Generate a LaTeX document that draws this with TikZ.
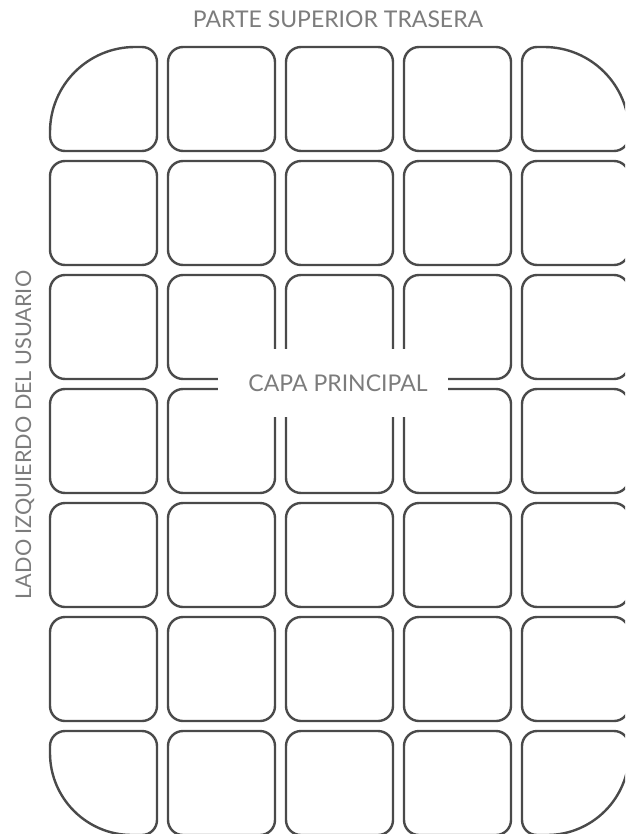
\documentclass[tikz,border=0pt]{standalone}
\usepackage{fontspec}
\setmainfont{Lato}
\definecolor{cellline}{HTML}{4A4A4A}
\definecolor{labeltext}{HTML}{7C7C7C}
\newcommand\cellbox[6]{%
  \pgfmathsetmacro\xa{#1}\pgfmathsetmacro\ya{#2}%
  \pgfmathsetmacro\xb{#1+107}\pgfmathsetmacro\yb{#2+104}%
  \draw[cellstroke]
    ({\xa+#3},\ya) -- ({\xb-#4},\ya)
    .. controls ({\xb-0.4477*#4},\ya) and (\xb,{\ya+0.4477*#4}) .. (\xb,{\ya+#4})
    -- (\xb,{\yb-#5})
    .. controls (\xb,{\yb-0.4477*#5}) and ({\xb-0.4477*#5},\yb) .. ({\xb-#5},\yb)
    -- ({\xa+#6},\yb)
    .. controls ({\xa+0.4477*#6},\yb) and (\xa,{\yb-0.4477*#6}) .. (\xa,{\yb-#6})
    -- (\xa,{\ya+#3})
    .. controls (\xa,{\ya+0.4477*#3}) and ({\xa+0.4477*#3},\ya) .. cycle;}
\begin{document}
\begin{tikzpicture}[x=1pt,y=-1pt,
  cellstroke/.style={draw=cellline,line width=2.4pt,line join=round},
  caption/.style={text=labeltext,font=\fontsize{23}{26}\selectfont,inner sep=0pt}]
\useasboundingbox (0,0) rectangle (625,834);
\fill[white] (0,0) rectangle (625,834);
\begin{scope}
\clip (0,0) rectangle (625,834);
\foreach \c in {0,...,4}{
  \foreach \r in {0,...,6}{
    \pgfmathsetmacro\cx{50+118*\c}
    \pgfmathsetmacro\cy{47+114*\r}
    \pgfmathsetmacro\rtl{(\c==0 && \r==0) ? 85 : 15}
    \pgfmathsetmacro\rtr{(\c==4 && \r==0) ? 85 : 15}
    \pgfmathsetmacro\rbr{(\c==4 && \r==6) ? 82 : 15}
    \pgfmathsetmacro\rbl{(\c==0 && \r==6) ? 82 : 15}
    \cellbox{\cx}{\cy}{\rtl}{\rtr}{\rbr}{\rbl}
  }
}
\end{scope}
\node[caption] (top) at (338,19) {PARTE SUPERIOR TRASERA};
\node[caption,rotate=90,font=\fontsize{21.6}{24}\selectfont] (left) at (25,435) {LADO IZQUIERDO DEL USUARIO};
\fill[white] (218,349) rectangle (448,417);
\node[caption] (main) at (338,383) {CAPA PRINCIPAL};
\end{tikzpicture}
\end{document}
